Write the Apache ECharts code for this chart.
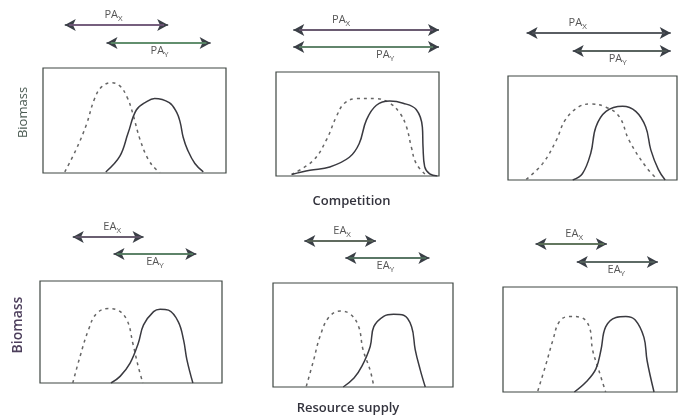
<!DOCTYPE html>
<html><head><meta charset="utf-8">
<script src="https://cdn.jsdelivr.net/npm/echarts@6/dist/echarts.min.js"></script>
<style>html,body{margin:0;padding:0;background:#fff}#c{width:678px;height:417px}</style>
</head><body><div id="c"></div>
<script>
// ---- data ----
const species = ['X', 'Y'];
const rangePrefix = ['PA', 'PA', 'PA', 'EA', 'EA', 'EA'];
const yNames = ['Biomass', '', '', 'Biomass', '', ''];
const xNames = ['', 'Competition', '', '', 'Resource supply', ''];

// curves: [resource level (0-100), biomass (0-100)]; X = dashed, Y = solid
const p1X = [[11.9,1],[18,22],[23.7,46],[28,70],[32,82],[37.4,86],[42,83],[46,72],[49,57],[53,32],[57.5,13],[62,3],[64,0.5]];
const p1Y = [[34.3,1],[42,16],[46.5,38],[51,60],[56.6,68],[61,71],[69,67],[73,58],[75,48],[76.6,34],[79,22],[83,9],[87.6,1]];
const p2X = [[9.6,1.5],[22.9,15],[31,35],[37,57],[42,70],[49.4,74.4],[61.6,74.4],[69.8,70],[76,60.5],[80,47.5],[83,28],[86,12],[92,1]];
const p2Y = [[9.6,1.5],[20.8,5.5],[33,8.7],[45,18],[51,31],[55.5,54],[61.6,68],[69.8,72],[78,70],[86,64],[89.8,47],[90.2,28],[91.2,9],[94.3,2],[99,0]];
const p3X = [[10.8,0.6],[20.6,16],[28.5,38],[34,58],[42,70.5],[49,73],[58,70],[65.8,61],[71.7,38],[81.5,13],[88.4,0.6]];
const p3Y = [[38.3,0],[44,6],[49,26],[52,51],[58,66],[67.8,71],[75.6,66],[81.5,51],[84.5,29],[89,10],[93,0]];
const p4X = [[18,0],[22,26],[26.6,52],[31,68],[37.6,73],[42,72],[47.7,62],[51,39],[54,16],[56.5,0]];
const p4Y = [[39,0],[44,6.5],[49.5,19.5],[54,39],[56.9,57],[62.4,70],[66,72.4],[70.6,71.4],[76,60],[78.9,42],[80.7,23],[84,0]];
const p5X = [[18.5,0.6],[22.6,26],[26,48],[31,67],[37.4,73],[43,70],[47.6,58],[50,36],[54,16],[56,0.6]];
const p5Y = [[39,0],[45,8.6],[49.4,20],[54,39],[56,58],[61.5,68],[67,70],[72.6,69],[77,58],[79,36],[81.8,16.5],[84.6,0]];
const p6X = [[20,1],[24.8,27],[28.6,49],[32.4,67],[38,72],[44.8,71],[49.6,62],[51.5,40],[55,21],[59,0]];
const p6Y = [[41,0],[47.7,9.5],[53.4,22],[56.3,40],[59,62],[64.9,71],[70.6,72],[76,68.6],[81,52],[82.8,30],[86.8,0]];

// ranges (arrows) along resource axis: [start, end] for X then Y
const p1Range = [[11.9,68.4],[34.7,91.6]];
const p2Range = [[10.6,100],[10.6,100]];
const p3Range = [[11,96.3],[38.3,96.3]];
const p4Range = [[18,56.9],[40.4,85.9]];
const p5Range = [[17.4,57.2],[40.2,86.9]];
const p6Range = [[18.7,59.7],[42.4,89]];

const curvesX = [p1X, p2X, p3X, p4X, p5X, p6X];
const curvesY = [p1Y, p2Y, p3Y, p4Y, p5Y, p6Y];
const ranges = [p1Range, p2Range, p3Range, p4Range, p5Range, p6Range];

// ---- layout / style ----
const boxes = [
  {left:43, top:68, width:183, height:105},
  {left:276, top:72, width:163, height:104},
  {left:508, top:76, width:169, height:104},
  {left:40, top:281, width:182, height:102},
  {left:273, top:283, width:180, height:104},
  {left:503, top:287, width:174, height:105}
];
const arrowRows = [[25,18],[30,17],[33,18],[237,17],[241,17],[244,18]];
const labelOffsets = [[-3,1],[-25,19],[-21,-4],[4,0],[2,-2],[3,-1]];
const shaftColors = [['#7a5a82','#5f9a6c'],['#6a5470','#5f8c6a'],['#55585e','#55605a'],['#6a5a70','#5a8a66'],['#5c6a58','#557a62'],['#607a58','#5a6a62']];
const headColor = '#3a3f46';
const FONT = '"Open Sans", "Noto Sans", sans-serif';

const grid = [], xAxis = [], yAxis = [], series = [];
const hidden = {axisLine:{show:false}, axisTick:{show:false}, axisLabel:{show:false}, splitLine:{show:false}};

boxes.forEach((b, i) => {
  grid.push(Object.assign({show:true, borderColor:'#3e4642', borderWidth:1.2, backgroundColor:'transparent'}, b));
  grid.push({left:b.left, width:b.width, top:arrowRows[i][0], height:arrowRows[i][1], show:false});
});

boxes.forEach((b, i) => {
  const gb = 2*i, ga = 2*i+1;
  xAxis.push(Object.assign({type:'value', gridIndex:gb, min:0, max:100,
    name:xNames[i], nameLocation:'middle', nameGap: i===1 ? 19 : 15,
    nameTextStyle:{fontFamily:FONT, fontSize:13, color:'#33333d', fontWeight:600, padding: i===1 ? [0,12,0,0] : [0,30,0,0]}}, hidden));
  yAxis.push(Object.assign({type:'value', gridIndex:gb, min:0, max:100,
    name:yNames[i], nameLocation:'middle', nameGap: i===0 ? 13 : 15,
    nameTextStyle:{fontFamily:FONT, fontSize: i===0 ? 13 : 14, fontWeight: i===0 ? 500 : 600,
      color: i===0 ? '#4a5a52' : '#4d3f5c', padding: i===0 ? [0,0,0,16] : [0,0,0,14]}}, hidden));
  xAxis.push(Object.assign({type:'value', gridIndex:ga, min:0, max:100}, hidden));
  yAxis.push(Object.assign({type:'value', gridIndex:ga, min:0, max:1}, hidden));

  series.push({type:'line', xAxisIndex:gb, yAxisIndex:gb, data:curvesX[i], smooth:0.4, showSymbol:false, silent:true,
    lineStyle:{color:'#666', width:1.5, type:[3,4]}});
  series.push({type:'line', xAxisIndex:gb, yAxisIndex:gb, data:curvesY[i], smooth:0.4, showSymbol:false, silent:true,
    lineStyle:{color:'#3a3a40', width:1.5}});

  const rich = {a:{fontSize:11, color:'#555', fontFamily:FONT, lineHeight:16, verticalAlign:'middle'},
                s:{fontSize:8, color:'#555', fontFamily:FONT, lineHeight:16, verticalAlign:'bottom', padding:[6,0,0,0]}};
  const mlData = [];
  species.forEach((sp, k) => {
    const yv = k === 0 ? 1 : 0;
    const r = ranges[i][k];
    const inset = (r[1]-r[0])*0.04;
    mlData.push([{coord:[r[0], yv], symbol:'arrow', lineStyle:{color:headColor, width:1.6},
                  label:{show:false}},
                 {coord:[r[1], yv], symbol:'arrow'}]);
    mlData.push([{coord:[r[0] + inset, yv], symbol:'none', lineStyle:{color:shaftColors[i][k], width:1.6},
                  label:{show:true, formatter:'{a|' + rangePrefix[i] + '}{s|' + sp + '}',
                    position: k === 0 ? 'insideMiddleTop' : 'insideMiddleBottom',
                    distance: k === 0 ? 2 : 0, offset:[labelOffsets[i][k], 0], rich:rich}},
                 {coord:[r[1] - inset, yv], symbol:'none'}]);
  });
  series.push({type:'line', xAxisIndex:ga, yAxisIndex:ga, data:[], silent:true,
    markLine:{silent:true, animation:false, symbol:['arrow','arrow'], symbolSize:[9,11], precision:4,
      lineStyle:{type:'solid'}, emphasis:{disabled:true}, data:mlData}});
});

const chart = echarts.init(document.getElementById('c'), null, {renderer:'canvas'});
chart.setOption({backgroundColor:'#fff', animation:false, grid, xAxis, yAxis, series});
</script></body></html>
